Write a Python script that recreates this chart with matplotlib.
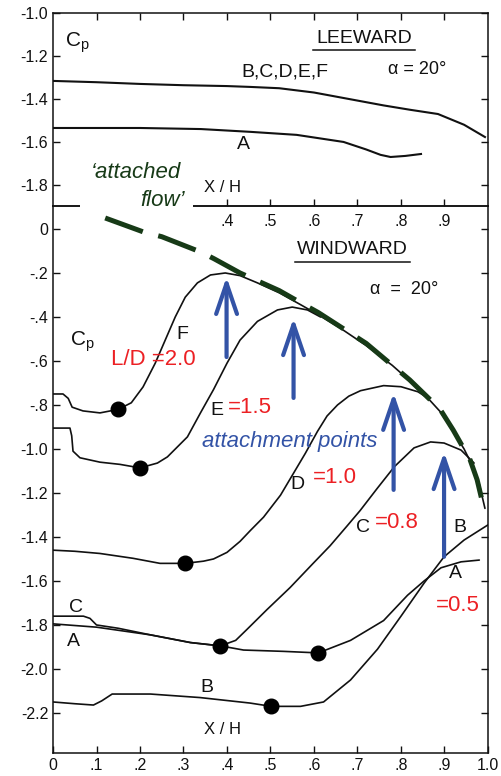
import matplotlib
matplotlib.use("Agg")
import matplotlib.pyplot as plt
from matplotlib.patches import Rectangle

# ---------------- data ----------------
# Leeward surface, alpha = 20 deg
lee_bf_x = [0.0, 0.1, 0.2, 0.3, 0.4, 0.454, 0.52, 0.6, 0.68, 0.76, 0.82, 0.885, 0.945, 0.993]
lee_bf_cp = [-1.316, -1.322, -1.33, -1.336, -1.34, -1.344, -1.35, -1.37, -1.40, -1.43, -1.45, -1.47, -1.52, -1.577]
lee_a_x = [0.0, 0.1, 0.2, 0.34, 0.454, 0.56, 0.668, 0.72, 0.753, 0.776, 0.81, 0.846]
lee_a_cp = [-1.535, -1.535, -1.535, -1.54, -1.553, -1.567, -1.60, -1.635, -1.66, -1.67, -1.665, -1.656]

# Windward surface, alpha = 20 deg (L/D: F=2.0, E=1.5, D=1.0, C=0.8, A/B=0.5)
win_f_x = [0.0, 0.023, 0.035, 0.044, 0.069, 0.108, 0.15, 0.18, 0.207, 0.235, 0.258, 0.281,
           0.304, 0.332, 0.362, 0.396, 0.43, 0.47, 0.52, 0.57, 0.61, 0.66, 0.72, 0.78,
           0.82, 0.86, 0.89, 0.92, 0.945, 0.965, 0.98, 0.993]
win_f_cp = [-0.75, -0.75, -0.77, -0.81, -0.827, -0.836, -0.82, -0.79, -0.718, -0.61, -0.505, -0.40,
            -0.31, -0.245, -0.209, -0.20, -0.212, -0.245, -0.29, -0.345, -0.39, -0.45, -0.53, -0.62,
            -0.69, -0.765, -0.83, -0.92, -1.0, -1.08, -1.16, -1.27]

win_e_x = [0.0, 0.039, 0.043, 0.046, 0.062, 0.108, 0.154, 0.20, 0.24, 0.263, 0.309, 0.339,
           0.369, 0.40, 0.43, 0.47, 0.516, 0.55, 0.585, 0.615]
win_e_cp = [-0.905, -0.905, -0.94, -1.01, -1.04, -1.06, -1.07, -1.086, -1.064, -1.036, -0.945, -0.836,
            -0.73, -0.61, -0.505, -0.42, -0.368, -0.355, -0.368, -0.40]

win_d_x = [0.0, 0.05, 0.108, 0.184, 0.246, 0.304, 0.346, 0.369, 0.40, 0.43, 0.454, 0.484,
           0.523, 0.553, 0.58, 0.608, 0.63, 0.654, 0.68, 0.707, 0.76, 0.80, 0.839, 0.855]
win_d_cp = [-1.46, -1.465, -1.475, -1.497, -1.52, -1.52, -1.51, -1.50, -1.47, -1.42, -1.37, -1.31,
            -1.21, -1.11, -1.02, -0.92, -0.85, -0.80, -0.76, -0.735, -0.712, -0.717, -0.74, -0.76]

win_c_x = [0.0, 0.07, 0.085, 0.1, 0.15, 0.224, 0.316, 0.385, 0.42, 0.446, 0.492, 0.545,
           0.598, 0.637, 0.676, 0.706, 0.745, 0.785, 0.83, 0.868, 0.899, 0.938, 0.968]
win_c_cp = [-1.76, -1.76, -1.77, -1.80, -1.815, -1.845, -1.88, -1.895, -1.87, -1.82, -1.73, -1.63,
            -1.52, -1.44, -1.35, -1.28, -1.18, -1.08, -0.995, -0.968, -0.973, -1.005, -1.064]

win_a_x = [0.0, 0.1, 0.224, 0.316, 0.385, 0.438, 0.53, 0.61, 0.684, 0.76, 0.815, 0.853,
           0.892, 0.938, 0.98]
win_a_cp = [-1.795, -1.81, -1.845, -1.88, -1.895, -1.914, -1.92, -1.927, -1.87, -1.78, -1.665, -1.60,
            -1.54, -1.513, -1.505]

win_b_x = [0.0, 0.05, 0.093, 0.112, 0.136, 0.224, 0.338, 0.453, 0.502, 0.569, 0.622, 0.684,
           0.746, 0.80, 0.853, 0.899, 0.945, 1.0]
win_b_cp = [-2.15, -2.158, -2.164, -2.145, -2.114, -2.114, -2.13, -2.155, -2.17, -2.17, -2.15, -2.05,
            -1.91, -1.76, -1.61, -1.49, -1.414, -1.345]

# 'attached flow' envelope
env_x = [0.12, 0.21, 0.25, 0.34, 0.37, 0.43, 0.52, 0.57, 0.61, 0.72, 0.82, 0.89, 0.92, 0.959, 0.975, 0.993]
env_cp = [0.05, -0.015, -0.035, -0.105, -0.135, -0.2, -0.28, -0.336, -0.38, -0.52, -0.686, -0.82,
          -0.914, -1.05, -1.14, -1.29]

# start of pressure rise on each curve (F, E, D, C, A, B)
dot_x = [0.15, 0.20, 0.304, 0.385, 0.61, 0.502]
dot_cp = [-0.82, -1.086, -1.52, -1.895, -1.927, -2.17]

# attachment-point arrows
arrow_x = [0.399, 0.553, 0.783, 0.899]
arrow_tip = [-0.218, -0.405, -0.745, -1.014]
arrow_tail = [-0.582, -0.768, -1.186, -1.49]

lee_yticks = [-1.0, -1.2, -1.4, -1.6, -1.8]
lee_ylabels = ["-1.0", "-1.2", "-1.4", "-1.6", "-1.8"]
xticks = [0.1, 0.2, 0.3, 0.4, 0.5, 0.6, 0.7, 0.8, 0.9]
lee_xlabels = ["", "", "", ".4", ".5", ".6", ".7", ".8", ".9"]
win_xticks = [0.0, 0.1, 0.2, 0.3, 0.4, 0.5, 0.6, 0.7, 0.8, 0.9, 1.0]
win_xlabels = ["0", ".1", ".2", ".3", ".4", ".5", ".6", ".7", ".8", ".9", "1.0"]
win_yticks = [0.0, -0.2, -0.4, -0.6, -0.8, -1.0, -1.2, -1.4, -1.6, -1.8, -2.0, -2.2]
win_ylabels = ["0", "-.2", "-.4", "-.6", "-.8", "-1.0", "-1.2", "-1.4", "-1.6", "-1.8", "-2.0", "-2.2"]

# ---------------- style ----------------
plt.rcParams["font.family"] = ["Liberation Sans", "DejaVu Sans"]
RED = "#ec2024"
BLUE = "#3353a6"
GREEN = "#173a17"
INK = "#111111"

W, H = 502, 776
fig = plt.figure(figsize=(W / 100, H / 100), dpi=100)
fig.patch.set_facecolor("white")

ax_lee = fig.add_axes([53 / W, (H - 206) / H, 435 / W, 193 / H])
ax_win = fig.add_axes([53 / W, (H - 753) / H, 435 / W, 547 / H])
ax_lee.set_zorder(2)
for ax in (ax_lee, ax_win):
    ax.set_facecolor("none")
    for s in ax.spines.values():
        s.set_linewidth(1.1)
        s.set_color(INK)
    ax.tick_params(direction="in", length=5, width=1, colors=INK, labelsize=11.5,
                   top=True, right=True)

# ---- leeward panel ----
ax_lee.set_xlim(0, 1.0)
ax_lee.set_ylim(-1.898, -1.0)
ax_lee.set_yticks(lee_yticks)
ax_lee.set_yticklabels(lee_ylabels)
ax_lee.set_xticks(xticks)
ax_lee.set_xticklabels(lee_xlabels)
ax_lee.tick_params(axis="x", pad=6)
ax_lee.plot(lee_bf_x, lee_bf_cp, color=INK, lw=1.5)
ax_lee.plot(lee_a_x, lee_a_cp, color=INK, lw=1.5)

ax_lee.text(0.055, -1.14, r"C$_\mathregular{p}$", fontsize=15, ha="center", va="center", color=INK)
ax_lee.text(0.715, -1.12, "LEEWARD", fontsize=14, ha="center", va="center", color=INK)
ax_lee.plot([(313 - 53) / 435, (415 - 53) / 435], [-1.172, -1.172], color=INK, lw=1.1)
ax_lee.text(0.533, -1.274, "B,C,D,E,F", fontsize=14, ha="center", va="center", color=INK)
ax_lee.text(0.837, -1.265, "α = 20°", fontsize=13, ha="center", va="center", color=INK)
ax_lee.text(0.437, -1.614, "A", fontsize=14, ha="center", va="center", color=INK)
ax_lee.text(0.389, -1.81, "X / H", fontsize=12, ha="center", va="center", color=INK)

# ---- windward panel ----
ax_win.set_xlim(0, 1.0)
ax_win.set_ylim(-2.382, 0.1045)
ax_win.set_xticks(win_xticks)
ax_win.set_xticklabels(win_xlabels)
ax_win.set_yticks(win_yticks)
ax_win.set_yticklabels(win_ylabels)
ax_win.tick_params(top=False)

for xs, cps in ((win_a_x, win_a_cp), (win_b_x, win_b_cp), (win_c_x, win_c_cp),
                (win_d_x, win_d_cp), (win_e_x, win_e_cp), (win_f_x, win_f_cp)):
    ax_win.plot(xs, cps, color=INK, lw=1.2, solid_capstyle="round", solid_joinstyle="round")

env, = ax_win.plot(env_x, env_cp, color=GREEN, lw=3.6, clip_on=False)
env.set_dashes((8, 3.2))

ax_win.plot(dot_x, dot_cp, "o", color="black", markersize=10.5, zorder=5)

for xa, tip, tail in zip(arrow_x, arrow_tip, arrow_tail):
    ax_win.annotate("", xy=(xa, tip), xytext=(xa, tail),
                    arrowprops=dict(arrowstyle="->,head_length=2.2,head_width=0.75",
                                    lw=3, color=BLUE, shrinkA=0, shrinkB=0))

ax_win.text(0.067, -0.514, r"C$_\mathregular{p}$", fontsize=15, ha="center", va="center", color=INK)
ax_win.text(0.687, -0.095, "WINDWARD", fontsize=14, ha="center", va="center", color=INK)
ax_win.plot([(295 - 53) / 435, (410 - 53) / 435], [-0.152, -0.152], color=INK, lw=1.1)
ax_win.text(0.807, -0.277, "α  =  20°", fontsize=13, ha="center", va="center", color=INK)

ax_win.text(0.297, -0.48, "F", fontsize=14, ha="center", va="center", color=INK)
ax_win.text(0.377, -0.823, "E", fontsize=14, ha="center", va="center", color=INK)
ax_win.text(0.563, -1.16, "D", fontsize=14, ha="center", va="center", color=INK)
ax_win.text(0.713, -1.355, "C", fontsize=14, ha="center", va="center", color=INK)
ax_win.text(0.936, -1.355, "B", fontsize=14, ha="center", va="center", color=INK)
ax_win.text(0.926, -1.568, "A", fontsize=14, ha="center", va="center", color=INK)
ax_win.text(0.053, -1.72, "C", fontsize=14, ha="center", va="center", color=INK)
ax_win.text(0.046, -1.873, "A", fontsize=14, ha="center", va="center", color=INK)
ax_win.text(0.354, -2.086, "B", fontsize=14, ha="center", va="center", color=INK)
ax_win.text(0.389, -2.277, "X / H", fontsize=12, ha="center", va="center", color=INK)

ax_win.text(0.23, -0.595, "L/D =2.0", fontsize=16, ha="center", va="center", color=RED)
ax_win.text(0.453, -0.81, "=1.5", fontsize=16, ha="center", va="center", color=RED)
ax_win.text(0.648, -1.13, "=1.0", fontsize=16, ha="center", va="center", color=RED)
ax_win.text(0.791, -1.335, "=0.8", fontsize=16, ha="center", va="center", color=RED)
ax_win.text(0.931, -1.71, "=0.5", fontsize=16, ha="center", va="center", color=RED)

ax_win.text(0.543, -0.968, "attachment points", fontsize=16, style="italic",
            ha="center", va="center", color=BLUE)

# 'attached flow' caption breaking the leeward baseline
fig.patches.append(Rectangle((80 / W, 1 - 212 / H), 113 / W, 16 / H, transform=fig.transFigure,
                             facecolor="white", edgecolor="none", zorder=4))
fig.text(136 / W, 1 - 173 / H, "\u2018attached", fontsize=16, style="italic",
         ha="center", va="center", color=GREEN, zorder=5)
fig.text(163 / W, 1 - 201 / H, "flow\u2019", fontsize=16, style="italic",
         ha="center", va="center", color=GREEN, zorder=5)

fig.savefig("out.png", dpi=100)
